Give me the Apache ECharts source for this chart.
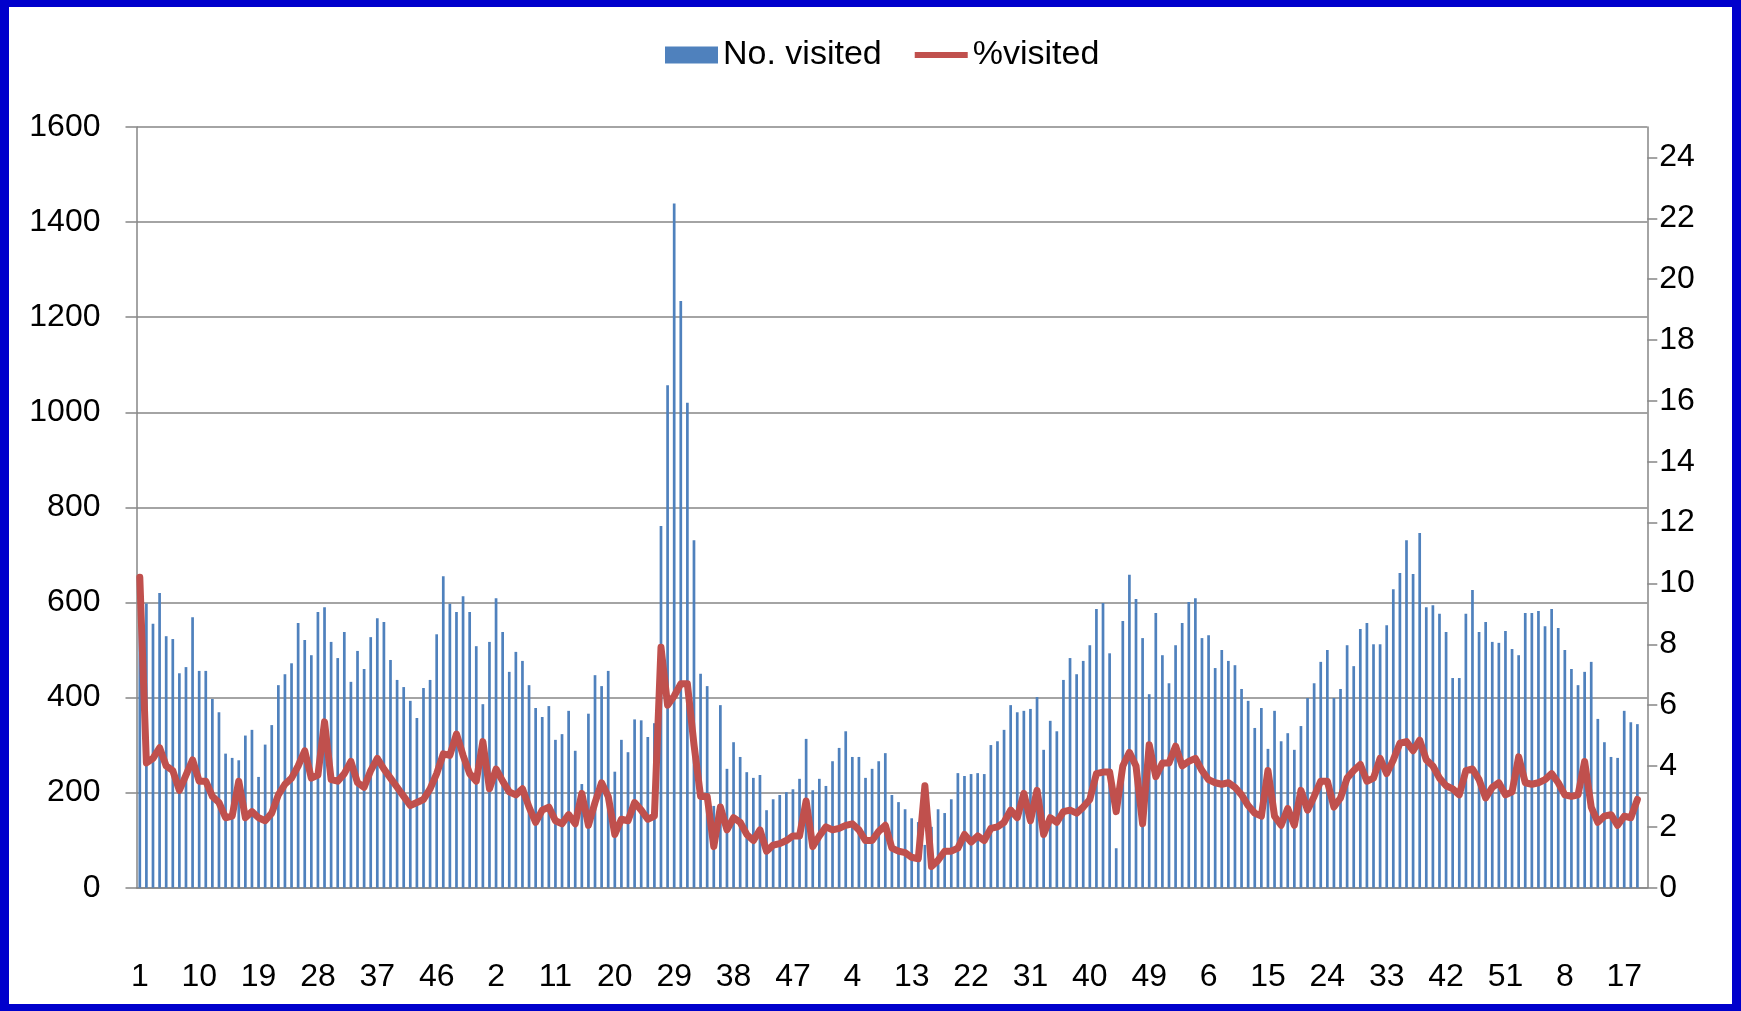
<!DOCTYPE html>
<html>
<head>
<meta charset="utf-8">
<title>No. visited / %visited</title>
<script src="https://cdn.jsdelivr.net/npm/echarts@6/dist/echarts.min.js"></script>
<style>
html, body { margin: 0; padding: 0; background: #fff; }
#wrap { position: relative; width: 1741px; height: 1011px; }
#main { position: absolute; left: 0; top: 0; width: 1741px; height: 1011px; }
/* blue frame round the picture */
#frame { position: absolute; left: 0; top: 0; width: 1741px; height: 1011px; box-sizing: border-box;
  border: solid #0000CC; border-width: 7px 9px 7px 9px; pointer-events: none; }
</style>
</head>
<body>
<div id="wrap">
  <div id="main"></div>
  <div id="frame"></div>
</div>
<script>
// weeks per year shown on the axis (last year is partial)
var yearWeeks = [53, 52, 52, 52, 20];

// No. visited, one array per year
var visitedY1 = [560, 598, 555, 620, 529, 523, 451, 464, 569, 456, 456, 397, 369, 282, 273, 268, 320, 332, 233, 301,
  342, 426, 449, 472, 557, 521, 489, 580, 590, 517, 483, 538, 433, 498, 460, 527, 567, 559, 479, 437,
  422, 393, 357, 420, 437, 533, 655, 597, 580, 613, 580, 508, 386];
var visitedY2 = [517, 609, 538, 454, 496, 477, 426, 378, 359, 382, 311, 323, 372, 288, 218, 366, 447, 424, 456, 244,
  311, 285, 354, 352, 317, 346, 761, 1057, 1439, 1234, 1020, 731, 450, 424, 172, 384, 250, 306, 275, 243,
  231, 237, 163, 186, 195, 201, 207, 229, 313, 205, 229, 214];
var visitedY3 = [266, 294, 329, 275, 275, 231, 250, 266, 283, 195, 180, 165, 146, 138, 90, 128, 165, 157, 186, 241,
  235, 239, 241, 239, 300, 308, 332, 384, 369, 372, 376, 401, 290, 351, 329, 437, 483, 449, 477, 510,
  586, 599, 493, 83, 561, 658, 607, 525, 407, 578, 489, 430];
var visitedY4 = [510, 557, 601, 609, 525, 531, 462, 500, 477, 468, 418, 393, 336, 378, 292, 372, 308, 325, 290, 340,
  399, 430, 475, 500, 399, 418, 510, 466, 544, 557, 512, 512, 552, 628, 662, 731, 660, 746, 590, 594,
  576, 538, 441, 441, 576, 626, 538, 559, 517, 515, 540, 502];
var visitedY5 = [489, 578, 578, 582, 550, 586, 546, 500, 460, 426, 454, 475, 355, 306, 275, 273, 372, 348, 344, null];

// %visited, one array per year
var pctY1 = [10.2, 4.1, 4.25, 4.6, 4.0, 3.85, 3.2, 3.7, 4.2, 3.5, 3.5, 3.0, 2.8, 2.3, 2.35, 3.5, 2.3, 2.5, 2.3, 2.2,
  2.45, 3.05, 3.4, 3.6, 4.0, 4.5, 3.6, 3.7, 5.45, 3.55, 3.5, 3.75, 4.15, 3.45, 3.3, 3.85, 4.25, 3.9, 3.6, 3.3,
  3.0, 2.7, 2.8, 2.9, 3.25, 3.75, 4.4, 4.35, 5.05, 4.35, 3.75, 3.5, 4.8];
var pctY2 = [3.25, 3.9, 3.5, 3.15, 3.05, 3.25, 2.65, 2.15, 2.55, 2.65, 2.2, 2.1, 2.4, 2.1, 3.1, 2.05, 2.8, 3.45, 3.0, 1.75,
  2.25, 2.2, 2.8, 2.55, 2.25, 2.35, 7.9, 6.0, 6.3, 6.7, 6.7, 4.7, 3.0, 3.0, 1.35, 2.65, 1.9, 2.3, 2.15, 1.75,
  1.55, 1.9, 1.2, 1.4, 1.45, 1.55, 1.7, 1.7, 2.85, 1.35, 1.7, 2.0];
var pctY3 = [1.9, 1.95, 2.05, 2.1, 1.9, 1.55, 1.55, 1.85, 2.05, 1.3, 1.2, 1.15, 1.0, 0.95, 3.35, 0.7, 0.9, 1.2, 1.2, 1.3,
  1.75, 1.5, 1.7, 1.55, 1.95, 2.0, 2.15, 2.55, 2.3, 3.1, 2.2, 3.2, 1.75, 2.3, 2.15, 2.5, 2.55, 2.45, 2.65, 2.9,
  3.75, 3.8, 3.8, 2.5, 4.0, 4.45, 4.0, 2.1, 4.7, 3.65, 4.1, 4.1];
var pctY4 = [4.65, 4.0, 4.15, 4.25, 3.85, 3.55, 3.45, 3.4, 3.45, 3.3, 3.05, 2.7, 2.45, 2.35, 3.85, 2.35, 2.05, 2.6, 2.05, 3.2,
  2.55, 3.0, 3.5, 3.5, 2.65, 2.95, 3.6, 3.85, 4.05, 3.5, 3.6, 4.25, 3.75, 4.2, 4.75, 4.8, 4.5, 4.85, 4.2, 4.0,
  3.6, 3.35, 3.25, 3.05, 3.85, 3.9, 3.55, 2.95, 3.3, 3.45, 3.05, 3.15];
var pctY5 = [4.3, 3.45, 3.4, 3.45, 3.55, 3.75, 3.45, 3.05, 3.0, 3.05, 4.15, 2.65, 2.15, 2.35, 2.4, 2.05, 2.35, 2.3, 2.9, null];

var leftTicks = [0, 200, 400, 600, 800, 1000, 1200, 1400, 1600];
var rightTicks = [0, 2, 4, 6, 8, 10, 12, 14, 16, 18, 20, 22, 24];

var weeks = [];
yearWeeks.forEach(function (n) {
  for (var w = 1; w <= n; w++) weeks.push(String(w));
});
var visited = visitedY1.concat(visitedY2, visitedY3, visitedY4, visitedY5);
var pct = pctY1.concat(pctY2, pctY3, pctY4, pctY5);

var FONT = '"Liberation Sans", Arial, sans-serif';
var GRAY = '#868686';

var chart = echarts.init(document.getElementById('main'));
chart.setOption({
  animation: false,
  backgroundColor: '#fff',
  textStyle: { fontFamily: FONT },
  legend: {
    top: 33,
    left: 660,
    itemGap: 33,
    itemWidth: 53,
    itemHeight: 17,
    textStyle: { fontSize: 34, color: '#000', fontFamily: FONT },
    data: [
      { name: 'No. visited', icon: 'rect' },
      // plain thick line, no marker
      { name: '%visited', icon: 'path://M0,0 H54 V6 H0 Z' }
    ]
  },
  grid: { left: 136.5, right: 93.7, top: 127, bottom: 123.3 },
  xAxis: {
    type: 'category',
    data: weeks,
    boundaryGap: true,
    axisLine: { lineStyle: { color: GRAY, width: 1.5 } },
    axisTick: { interval: 0, length: 12, lineStyle: { color: GRAY, width: 1.5 } },
    axisLabel: { interval: 8, margin: 73, fontSize: 32, color: '#000', fontFamily: FONT }
  },
  yAxis: [
    {
      type: 'value',
      min: leftTicks[0],
      max: leftTicks[leftTicks.length - 1],
      interval: 200,
      axisLine: { show: true, lineStyle: { color: GRAY, width: 1.5 } },
      axisTick: { show: true, length: 11, lineStyle: { color: GRAY, width: 1.5 } },
      axisLabel: {
        margin: 36, fontSize: 32, color: '#000', fontFamily: FONT,
        formatter: function (v) { return String(v); }
      },
      splitLine: { show: true, lineStyle: { color: GRAY, width: 1.5 } }
    },
    {
      type: 'value',
      position: 'right',
      min: 0,
      max: 25,
      interval: 2,
      axisLine: { show: true, lineStyle: { color: GRAY, width: 1.5 } },
      axisTick: { show: true, length: 10, customValues: rightTicks, lineStyle: { color: GRAY, width: 1.5 } },
      axisLabel: { margin: 12, fontSize: 32, color: '#000', fontFamily: FONT, customValues: rightTicks },
      splitLine: { show: false }
    }
  ],
  series: [
    {
      name: 'No. visited',
      type: 'bar',
      data: visited,
      barWidth: 2.7,
      itemStyle: { color: '#4F81BD' }
    },
    {
      name: '%visited',
      type: 'line',
      yAxisIndex: 1,
      data: pct,
      symbol: 'none',
      lineStyle: { color: '#C0504D', width: 7, join: 'round', cap: 'round' },
      itemStyle: { color: '#C0504D' }
    }
  ]
});
</script>
</body>
</html>
